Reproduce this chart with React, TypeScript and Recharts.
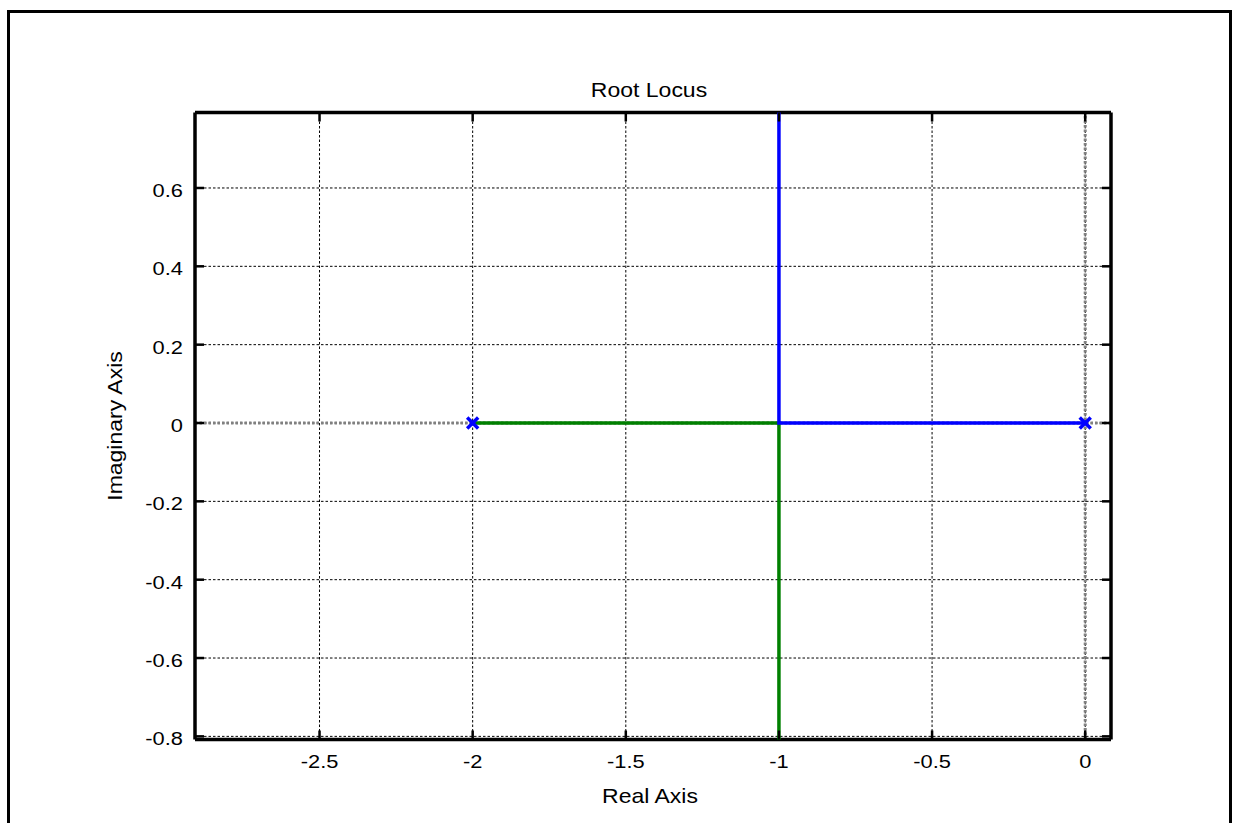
import React from "react";
import {
  ComposedChart,
  Scatter,
  XAxis,
  YAxis,
  CartesianGrid,
  ReferenceLine,
} from "recharts";

// Root locus branches (real part x, imaginary part y)
const branchBlue = [
  { x: 0, y: 0 },
  { x: -1, y: 0 },
  { x: -1, y: 0.85 },
];
const branchGreen = [
  { x: -2, y: 0 },
  { x: -1, y: 0 },
  { x: -1, y: -0.85 },
];
// Open-loop poles
const poles = [
  { x: -2, y: 0 },
  { x: 0, y: 0 },
];

const xTicks = [-2.5, -2, -1.5, -1, -0.5, 0];
const yTicks = [-0.8, -0.6, -0.4, -0.2, 0, 0.2, 0.4, 0.6];
const xDomain = [-2.9066, 0.0842];
const yDomain = [-0.808, 0.7927];

const title = "Root Locus";
const xLabel = "Real Axis";
const yLabel = "Imaginary Axis";

const FONT = "'Liberation Sans', Arial, Helvetica, sans-serif";
const SX = 1.15;
const TICK_LEN = 9;

const fmt = (v: number) => String(Math.round(v * 10) / 10);

const BottomTick = (props: any) => {
  const { x, y, payload } = props;
  return (
    <g>
      <line x1={x} y1={y} x2={x} y2={y - TICK_LEN} stroke="#000" strokeWidth={2.5} />
      <text
        transform={`translate(${x} ${y + 28.5}) scale(${SX} 1)`}
        textAnchor="middle"
        fontFamily={FONT}
        fontSize={19}
        fill="#000"
      >
        {fmt(payload.value)}
      </text>
    </g>
  );
};

const TopTick = (props: any) => {
  const { x, y } = props;
  return <line x1={x} y1={y} x2={x} y2={y + TICK_LEN} stroke="#000" strokeWidth={2.5} />;
};

const LeftTick = (props: any) => {
  const { x, y, payload } = props;
  return (
    <g>
      <line x1={x} y1={y} x2={x + TICK_LEN} y2={y} stroke="#000" strokeWidth={2.5} />
      <text
        transform={`translate(${x - 12} ${y + 9}) scale(${SX} 1)`}
        textAnchor="end"
        fontFamily={FONT}
        fontSize={19}
        fill="#000"
      >
        {fmt(payload.value)}
      </text>
    </g>
  );
};

const RightTick = (props: any) => {
  const { x, y } = props;
  return <line x1={x} y1={y} x2={x - TICK_LEN} y2={y} stroke="#000" strokeWidth={2.5} />;
};

const Empty = () => <g />;

const PoleMark = (props: any) => {
  const { cx, cy } = props;
  const r = 5.5;
  return (
    <g stroke="#0000ff" strokeWidth={3.5}>
      <line x1={cx - r} y1={cy - r} x2={cx + r} y2={cy + r} />
      <line x1={cx - r} y1={cy + r} x2={cx + r} y2={cy - r} />
    </g>
  );
};

export default function App() {
  return (
    <div
      style={{
        position: "absolute",
        left: 0,
        top: 0,
        width: 1235,
        height: 823,
        background: "#fff",
        overflow: "hidden",
      }}
    >
      <div
        style={{
          position: "absolute",
          left: 7,
          top: 10,
          width: 1219,
          height: 830,
          border: "3px solid #000",
        }}
      />
      <div style={{ position: "absolute", left: 0, top: 0 }}>
        <ComposedChart
          width={1235}
          height={823}
          margin={{ top: 111.5, right: 123, bottom: 82.5, left: 194 }}
        >
          <ReferenceLine x={0} stroke="#808080" strokeWidth={3} strokeDasharray="2.5 2" />
          <ReferenceLine y={0} stroke="#808080" strokeWidth={3} strokeDasharray="2.5 2" />
          <CartesianGrid
            stroke="#000"
            strokeWidth={1}
            strokeDasharray="2.5 2"
            syncWithTicks
          />
          <XAxis
            type="number"
            dataKey="x"
            domain={xDomain}
            ticks={xTicks}
            allowDataOverflow
            height={1}
            tickSize={0}
            tickMargin={0}
            tickLine={false}
            axisLine={{ stroke: "#000", strokeWidth: 3.5 }}
            tick={<BottomTick />}
            interval={0}
          />
          <XAxis
            xAxisId="top"
            orientation="top"
            type="number"
            dataKey="x"
            domain={xDomain}
            ticks={xTicks}
            allowDataOverflow
            height={1}
            tickSize={0}
            tickMargin={0}
            tickLine={false}
            axisLine={{ stroke: "#000", strokeWidth: 3.5 }}
            tick={<TopTick />}
            interval={0}
          />
          <YAxis
            type="number"
            dataKey="y"
            domain={yDomain}
            ticks={yTicks}
            allowDataOverflow
            width={1}
            tickSize={0}
            tickMargin={0}
            tickLine={false}
            axisLine={{ stroke: "#000", strokeWidth: 3.5 }}
            tick={<LeftTick />}
            interval={0}
          />
          <YAxis
            yAxisId="right"
            orientation="right"
            type="number"
            dataKey="y"
            domain={yDomain}
            ticks={yTicks}
            allowDataOverflow
            width={1}
            tickSize={0}
            tickMargin={0}
            tickLine={false}
            axisLine={{ stroke: "#000", strokeWidth: 3.5 }}
            tick={<RightTick />}
            interval={0}
          />
          <Scatter
            data={branchGreen}
            fill="#008000"
            line={{ stroke: "#008000", strokeWidth: 3.5 }}
            shape={<Empty />}
            isAnimationActive={false}
          />
          <Scatter
            data={branchBlue}
            fill="#0000ff"
            line={{ stroke: "#0000ff", strokeWidth: 3.5 }}
            shape={<Empty />}
            isAnimationActive={false}
          />
          <Scatter
            data={poles}
            fill="#0000ff"
            shape={<PoleMark />}
            isAnimationActive={false}
          />
        </ComposedChart>
      </div>
      <svg
        width={1235}
        height={823}
        style={{ position: "absolute", left: 0, top: 0, pointerEvents: "none" }}
      >
        <text
          transform={`translate(649 97) scale(${SX} 1)`}
          textAnchor="middle"
          fontFamily={FONT}
          fontSize={20}
          fill="#000"
        >
          {title}
        </text>
        <text
          transform={`translate(650 803) scale(${SX} 1)`}
          textAnchor="middle"
          fontFamily={FONT}
          fontSize={20}
          fill="#000"
        >
          {xLabel}
        </text>
        <text
          transform={`translate(122 426) rotate(-90) scale(${SX} 1)`}
          textAnchor="middle"
          fontFamily={FONT}
          fontSize={20}
          fill="#000"
        >
          {yLabel}
        </text>
      </svg>
    </div>
  );
}
